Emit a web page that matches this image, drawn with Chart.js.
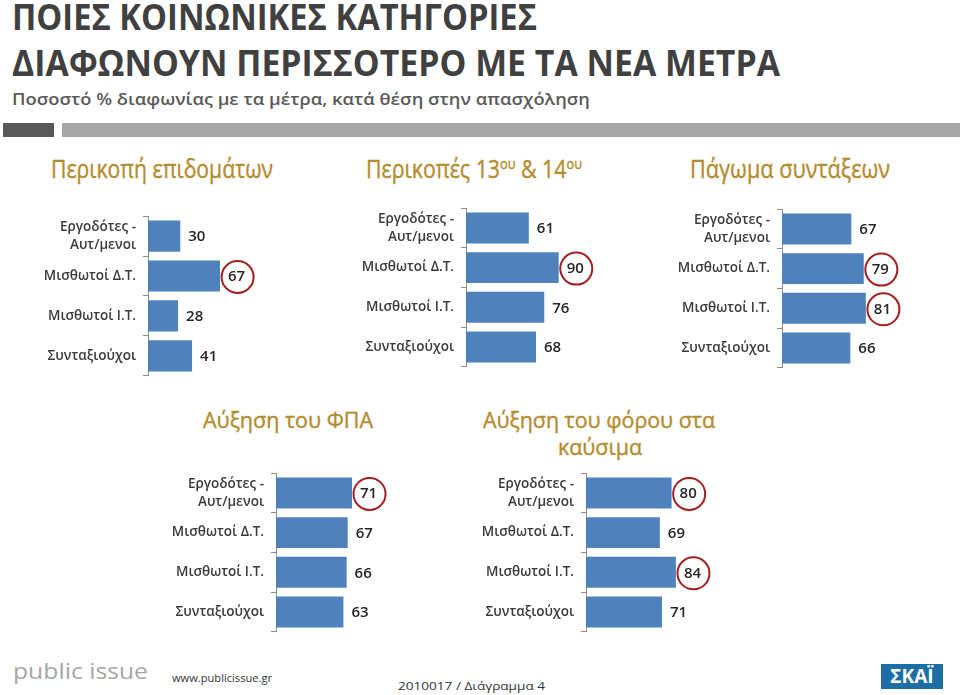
<!DOCTYPE html>
<html><head><meta charset="utf-8">
<script src="https://cdn.jsdelivr.net/npm/chart.js@4.4.1/dist/chart.umd.min.js"></script>
<style>
html,body{margin:0;padding:0;background:#fff;}
#page{position:relative;width:960px;height:695px;overflow:hidden;font-family:'Open Sans',sans-serif;}
.t{position:absolute;white-space:nowrap;transform-origin:0 0;line-height:1;}
.gold{color:#b48c2e;font-size:22px;-webkit-text-stroke:0.4px #b48c2e;}
.gold.big{font-size:25px;}
canvas{position:absolute;}
sup{font-size:0.6em;vertical-align:0.6em;line-height:0;}
</style></head><body><div id="page">
<div class="t" id="title1" style="left:12px;top:-1px;font-size:35px;font-weight:700;color:#404040;">ΠΟΙΕΣ ΚΟΙΝΩΝΙΚΕΣ ΚΑΤΗΓΟΡΙΕΣ</div>
<div class="t" id="title2" style="left:12px;top:45px;font-size:35px;font-weight:700;color:#404040;">ΔΙΑΦΩΝΟΥΝ ΠΕΡΙΣΣΟΤΕΡΟ ΜΕ ΤΑ ΝΕΑ ΜΕΤΡΑ</div>
<div class="t" id="subtitle" style="left:12px;top:90px;font-size:17px;font-weight:600;color:#595959;">Ποσοστό % διαφωνίας με τα μέτρα, κατά θέση στην απασχόληση</div>
<div style="position:absolute;left:3px;top:123px;width:51px;height:14px;background:#595959;"></div>
<div style="position:absolute;left:62px;top:123px;width:898px;height:14px;background:#a6a6a6;"></div>

<div class="t gold big" id="pt1" style="left:51px;top:156px;">Περικοπή επιδομάτων</div>
<div class="t gold big" id="pt2" style="left:366px;top:156px;">Περικοπές 13<sup>ου</sup> &amp; 14<sup>ου</sup></div>
<div class="t gold big" id="pt3" style="left:690px;top:156px;">Πάγωμα συντάξεων</div>
<div class="t gold" id="pt4" style="left:203px;top:408px;">Αύξηση του ΦΠΑ</div>
<div class="t gold" id="pt5a" style="left:483px;top:408px;">Αύξηση του φόρου στα</div>
<div class="t gold" id="pt5b" style="left:558px;top:435px;">καύσιμα</div>

<canvas id="c1"></canvas><canvas id="c2"></canvas><canvas id="c3"></canvas><canvas id="c4"></canvas><canvas id="c5"></canvas>

<div class="t" id="logo" style="left:13px;top:661px;font-size:21px;color:#a6a6a6;">public issue</div>
<div class="t" id="www" style="left:172px;top:672px;font-size:11px;color:#333;">www.publicissue.gr</div>
<div class="t" id="code" style="left:398px;top:680px;font-size:11px;color:#333;">2010017 / Διάγραμμα 4</div>
<div style="position:absolute;left:881px;top:664px;width:62px;height:25px;background:#1c6ea4;color:#fff;font-weight:700;font-size:19px;line-height:25px;text-align:center;font-family:'Open Sans',sans-serif;">ΣΚΑΪ</div>
</div>
<script>
const categories = [["Εργοδότες -","Αυτ/μενοι"], "Μισθωτοί Δ.Τ.", "Μισθωτοί Ι.Τ.", "Συνταξιούχοι"];
const cutBenefits   = [30, 67, 28, 41];
const cutBonuses    = [61, 90, 76, 68];
const pensionFreeze = [67, 79, 81, 66];
const vatIncrease   = [71, 67, 66, 63];
const fuelTax       = [80, 69, 84, 71];
const cutBenefitsCircled   = [1];
const cutBonusesCircled    = [1];
const pensionFreezeCircled = [1, 2];
const vatIncreaseCircled   = [0];
const fuelTaxCircled       = [0, 2];

const panels = [
  {id:'c1', values:cutBenefits,   circled:cutBenefitsCircled,   left:0,   top:200, w:310, h:201, axis:148, ppu:1.075},
  {id:'c2', values:cutBonuses,    circled:cutBonusesCircled,    left:320, top:192, w:310, h:200, axis:466, ppu:1.03},
  {id:'c3', values:pensionFreeze, circled:pensionFreezeCircled, left:630, top:193, w:330, h:200, axis:782, ppu:1.035},
  {id:'c4', values:vatIncrease,   circled:vatIncreaseCircled,   left:80,  top:457, w:330, h:200, axis:276, ppu:1.07},
  {id:'c5', values:fuelTax,       circled:fuelTaxCircled,       left:420, top:457, w:320, h:200, axis:586, ppu:1.07}
];

function valuePlugin(p){
  return {
    id:'vals'+p.id,
    afterDatasetsDraw(chart){
      const ctx = chart.ctx, meta = chart.getDatasetMeta(0);
      ctx.save();
      ctx.font = '600 15px "Open Sans"';
      ctx.fillStyle = '#262626';
      ctx.textBaseline = 'middle';
      ctx.textAlign = 'left';
      meta.data.forEach((bar, i) => {
        const txt = String(p.values[i]);
        const x = bar.x + 8;
        ctx.fillText(txt, x, bar.y + 1);
        if (p.circled.includes(i)) {
          const w = ctx.measureText(txt).width;
          ctx.beginPath();
          ctx.arc(x + w/2 + 1, bar.y + 1, 16, 0, Math.PI*2);
          ctx.strokeStyle = '#a3201f';
          ctx.lineWidth = 2;
          ctx.stroke();
        }
      });
      ctx.restore();
    }
  };
}

function fit(id, w){
  const el = document.getElementById(id);
  el.style.transform = 'none';
  const cur = el.getBoundingClientRect().width;
  el.style.transform = 'scaleX(' + (w/cur) + ')';
}
fit('title1', 525); fit('title2', 768); fit('subtitle', 578);
fit('pt1', 222); fit('pt2', 216); fit('pt3', 200);
fit('pt4', 170); fit('pt5a', 232); fit('pt5b', 84);
fit('logo', 135); fit('www', 100); fit('code', 147);

panels.forEach(p => {
  const cv = document.getElementById(p.id);
  cv.width = p.w; cv.height = p.h;
  cv.style.left = p.left + 'px'; cv.style.top = p.top + 'px';
  const axisW = p.axis - p.left;
  new Chart(cv, {
    type:'bar',
    data:{labels:categories, datasets:[{data:p.values, backgroundColor:'#4f81bd', borderWidth:0, barPercentage:0.78, categoryPercentage:1}]},
    options:{
      indexAxis:'y', responsive:false, animation:false, devicePixelRatio:1,
      layout:{padding:{top:10, bottom:p.h-190, left:0, right:p.w - axisW - 100*p.ppu}},
      plugins:{legend:{display:false}, tooltip:{enabled:false}},
      scales:{
        x:{display:false, min:0, max:100},
        y:{
          grid:{drawOnChartArea:false, drawTicks:true, tickLength:5, color:'#8c8c8c', offset:true},
          border:{display:true, color:'#8c8c8c'},
          ticks:{color:'#3a3a3a', font:{family:'Open Sans', size:13.5, weight:'600', lineHeight:1.35}, padding:7},
          afterFit(s){ s.width = axisW; }
        }
      }
    },
    plugins:[valuePlugin(p)]
  });
});
</script>
</body></html>
